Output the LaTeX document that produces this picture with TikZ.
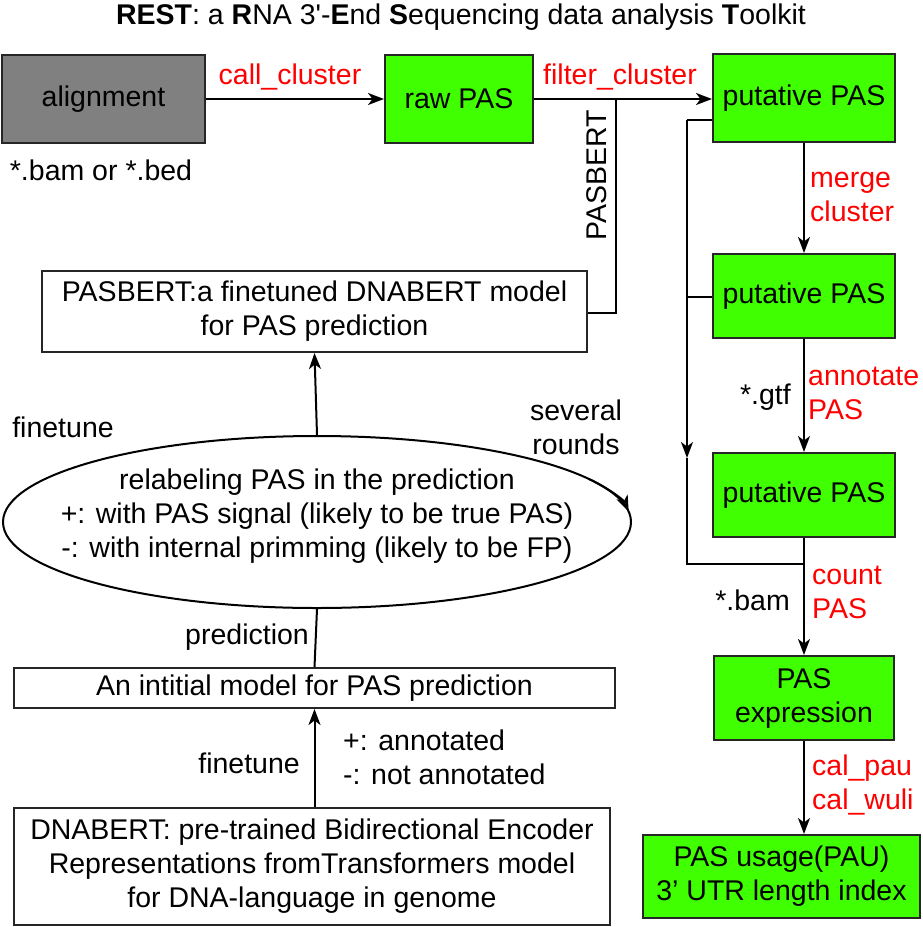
\documentclass[tikz,border=0pt]{standalone}
\usepackage{fontspec}
\setmainfont{Liberation Sans}
\usetikzlibrary{arrows.meta,calc,shapes.geometric}
\definecolor{pasgreen}{RGB}{64,255,0}
\definecolor{algray}{RGB}{128,128,128}
\begin{document}
\begin{tikzpicture}[x=1pt,y=-1pt,
  every node/.style={font=\fontsize{28.5}{34}\selectfont, inner sep=0pt, align=center},
  box/.style={draw=black!85, line width=2pt, minimum width=#1, anchor=center},
  gbox/.style={box=#1, fill=pasgreen},
  wbox/.style={box=#1, fill=white},
  lbl/.style={text=red},
  conn/.style={line width=2pt, draw=black},
  arr/.style={conn, -{Stealth[length=16pt,width=12pt,inset=4.5pt]}}
]
\useasboundingbox (0,0) rectangle (922,927);
% title
\node (title) at (461,17) {\fontsize{28.5}{32}\selectfont\textbf{REST}: a \textbf{R}NA 3\textquotesingle-\textbf{E}nd \textbf{S}equencing data analysis \textbf{T}oolkit};

% pipeline boxes
\node[box=203pt, fill=algray, minimum height=88pt] (align) at (103.5,99) {alignment};
\node[gbox=148pt, minimum height=88pt] (raw) at (459,99) {raw PAS};
\node[gbox=182pt, minimum height=88pt] (put1) at (804,98) {putative PAS};
\node[gbox=182pt, minimum height=84pt] (put2) at (804,296) {putative PAS};
\node[gbox=182pt, minimum height=84pt] (put3) at (804,495) {putative PAS};
\node[gbox=180pt, minimum height=84pt] (expr) at (804,698) {PAS\\expression};
\node[gbox=277pt, minimum height=83pt] (usage) at (781.5,876.5) {PAS usage(PAU)\\3’ UTR length index};

% model boxes
\node[wbox=545pt, minimum height=81pt] (pasbert) at (314.5,311.5) {PASBERT:a finetuned DNABERT model\\for PAS prediction};
\node[draw=black, line width=2pt, ellipse, minimum width=628pt, minimum height=172pt] (relab) at (317,522) {};
\node (relabtxt) at (317,516) {relabeling PAS in the prediction\\+: with PAS signal (likely to be true PAS)\\-: with internal primming (likely to be FP)};
\node[wbox=601pt, minimum height=40pt] (init) at (314.5,688) {An intitial model for PAS prediction};
\node[wbox=596pt, minimum height=117pt] (dnabert) at (312,866.5) {DNABERT: pre-trained Bidirectional Encoder\\Representations fromTransformers model\\for DNA-language in genome};

% top row connectors
\draw[arr] (align.east) -- (raw.west);
\node[lbl] (callc) at (290,77) {call\_cluster};
\draw[arr] (raw.east) -- (put1.west |- raw.east);
\node[lbl] (filtc) at (620,77) {filter\_cluster};

% PASBERT branch
\coordinate (pb1) at (616,99);
\coordinate (pb2) at (616,313);
\draw[conn] (pb1) -- (pb2) -- (pasbert.east |- pb2);
\node[rotate=90] (pbl) at (597,175) {PASBERT};

% right column arrows
\draw[arr] (put1.south) -- (put2.north);
\node[lbl, anchor=west, align=left] (mergel) at (810,197) {merge\\cluster};
\draw[arr] (put2.south) -- (put3.north);
\node[anchor=east] (gtf) at (791,397) {*.gtf};
\node[lbl, anchor=west, align=left] (annl) at (808,393) {annotate\\PAS};
\draw[arr] (put3.south) -- (expr.north);
\node[anchor=east] (bam) at (790,600) {*.bam};
\node[lbl, anchor=west, align=left] (countl) at (812,592) {count\\PAS};
\draw[arr] (expr.south) -- (expr.south |- usage.north);
\node[lbl, anchor=west, align=left] (call) at (812,785) {cal\_pau\\cal\_wuli};

% left trunk of right column
\coordinate (t1) at (687,120);
\coordinate (t2) at (687,297);
\coordinate (t3) at (687,458);
\coordinate (t4) at (687,564);
\coordinate (t5) at (804,564);
\draw[conn] (put1.west |- t1) -- (t1);
\draw[arr] (t1) -- (t3);
\draw[conn] (t3) -- (t4) -- (t5);
\draw[conn] (t2) -- (put2.west |- t2);

% left side labels and connectors
\node (bamorbed) at (101,170) {*.bam or *.bed};
\draw[arr] (relab.north) -- (pasbert.south);
\node (ft1) at (63,427) {finetune};
\node (sev) at (576,427) {several\\rounds};
\draw[arr] ($(relab.center)+(-30:314 and 86)$) arc[start angle=-30, end angle=-7, x radius=314, y radius=86];
\draw[conn] (init.north) -- (relab.south);
\node[anchor=east] (predl) at (309,637) {prediction};
\draw[arr] (dnabert.north -| init.south) -- (init.south);
\node[anchor=east] (ft2) at (300,763) {finetune};
\node[anchor=west, align=left] (annot) at (343,757) {+: annotated\\-: not annotated};
\end{tikzpicture}
\end{document}
